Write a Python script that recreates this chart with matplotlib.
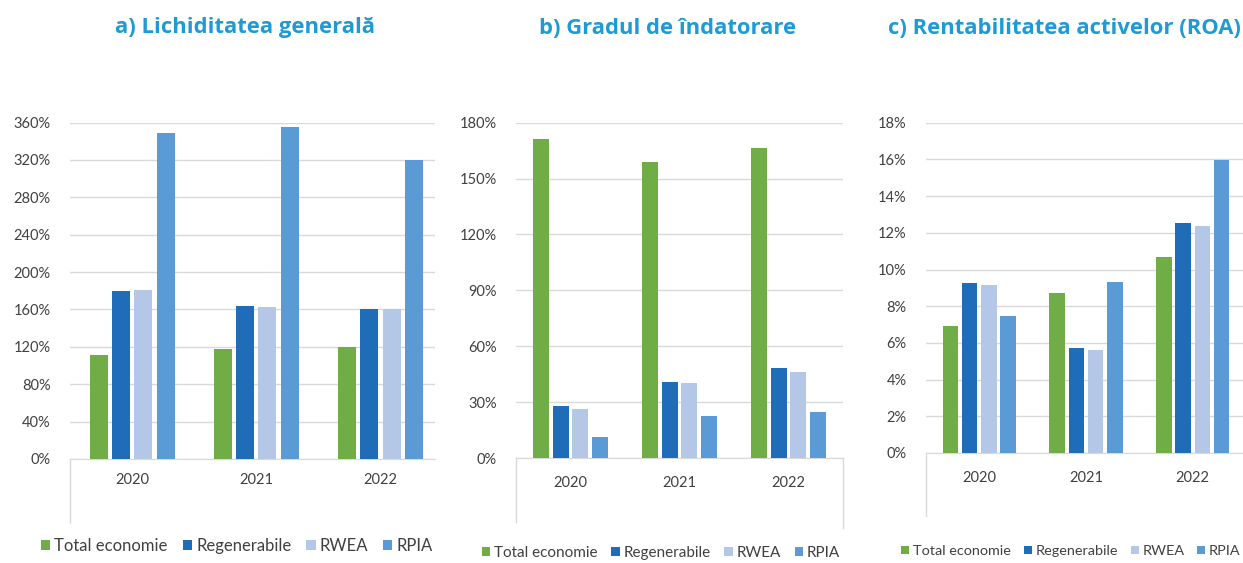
import numpy as np
import matplotlib
matplotlib.use('Agg')
import matplotlib.pyplot as plt
from matplotlib.ticker import FuncFormatter

plt.rcParams['font.family'] = ['Lato', 'DejaVu Sans']

years = ['2020', '2021', '2022']
series = ['Total economie', 'Regenerabile', 'RWEA', 'RPIA']
colors = ['#70ad47', '#1f6cb8', '#b4c7e7', '#5b9bd5']

# a) Lichiditatea generala (%)
lich_total = [111, 118, 119.6]
lich_regen = [180, 164, 160.5]
lich_rwea = [181, 162.7, 160.3]
lich_rpia = [348.7, 355, 320]

# b) Gradul de indatorare (%)
grad_total = [171.2, 159, 166.4]
grad_regen = [28.1, 41, 48.4]
grad_rwea = [26.5, 40.1, 46.2]
grad_rpia = [11.5, 22.4, 24.7]

# c) ROA (%)
roa_total = [6.9, 8.7, 10.7]
roa_regen = [9.25, 5.7, 12.55]
roa_rwea = [9.15, 5.6, 12.35]
roa_rpia = [7.45, 9.3, 15.95]

title_color = '#1e9bd7'
text_color = '#404040'
grid_color = '#d9d9d9'

W, H = 1243, 563
fig = plt.figure(figsize=(W / 100, H / 100), dpi=100)


def px_axes(left, right, top, bottom):
    return fig.add_axes([left / W, 1 - bottom / H, (right - left) / W,
                         (bottom - top) / H])


def panel(ax, data, ymax, step, title, title_x, leg_x, leg_y, leg_fs,
          xpad, xmax=2.5, sep_right=False):
    x = np.arange(len(years))
    for i, (vals, lab) in enumerate(zip(data, series)):
        ax.bar(x + (i - 1.5) * 0.18, vals, width=0.145, color=colors[i],
               label=lab, zorder=3)
    ax.set_xlim(-0.5, xmax)
    ax.set_ylim(0, ymax)
    ax.set_yticks(np.arange(0, ymax + step / 2, step))
    ax.yaxis.set_major_formatter(FuncFormatter(lambda v, p: '%d%%' % v))
    ax.set_xticks(x)
    ax.set_xticklabels(years)
    ax.grid(axis='y', color=grid_color, linewidth=1, zorder=0)
    for s in ['top', 'right', 'left']:
        ax.spines[s].set_visible(False)
    ax.spines['bottom'].set_color(grid_color)
    ax.tick_params(axis='both', length=0, labelsize=10.5,
                   labelcolor=text_color)
    ax.tick_params(axis='y', pad=14)
    ax.tick_params(axis='x', pad=xpad)

    # category separator lines below the axis
    ax.plot([0, 0], [0, -0.19], transform=ax.transAxes, color=grid_color,
            linewidth=1, clip_on=False)
    if sep_right:
        ax.plot([1, 1], [0, -0.21], transform=ax.transAxes,
                color=grid_color, linewidth=1, clip_on=False)

    fig.text(title_x / W, 1 - 28 / H, title, ha='center', va='center',
             fontsize=15.8, fontweight='bold', color=title_color,
             family=['Open Sans', 'DejaVu Sans'])
    ax.legend(loc='center', bbox_to_anchor=(leg_x / W, 1 - leg_y / H),
              bbox_transform=fig.transFigure, ncol=4, frameon=False,
              handlelength=0.55, handleheight=0.55, handletextpad=0.25,
              columnspacing=0.9, fontsize=leg_fs, labelcolor=text_color)


ax1 = px_axes(70, 435, 122.5, 459)
panel(ax1, [lich_total, lich_regen, lich_rwea, lich_rpia], 360, 40,
      'a) Lichiditatea generală', 245, 237, 546, 12, 10, xmax=2.44)

ax2 = px_axes(516, 843, 122.7, 458)
panel(ax2, [grad_total, grad_regen, grad_rwea, grad_rpia], 180, 30,
      'b) Gradul de îndatorare', 668, 661, 553, 11, 13, sep_right=True)

ax3 = px_axes(926, 1246, 122.7, 453)
panel(ax3, [roa_total, roa_regen, roa_rwea, roa_rpia], 18, 2,
      'c) Rentabilitatea activelor (ROA)', 1064, 1071, 551, 10.4, 13)

fig.savefig('out.png', dpi=100)
